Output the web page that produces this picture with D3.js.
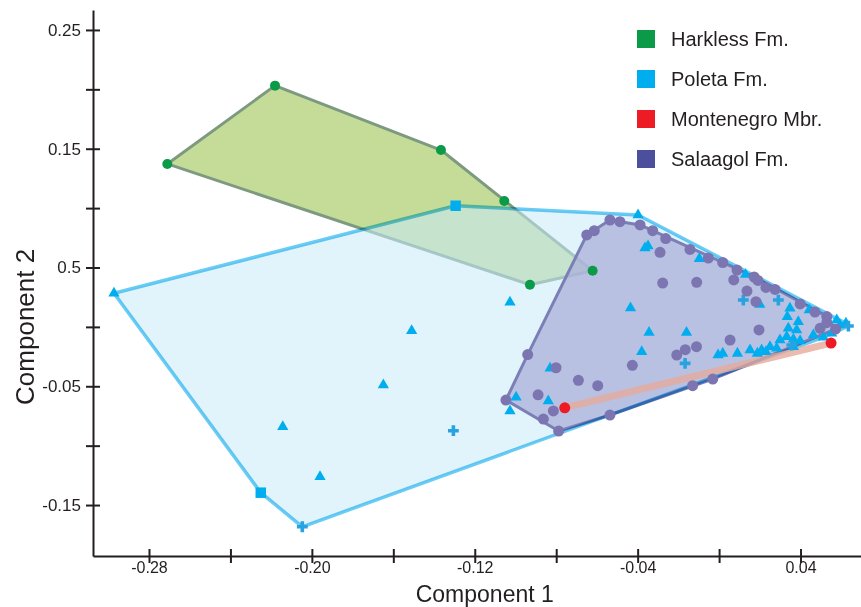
<!DOCTYPE html>
<html>
<head>
<meta charset="utf-8">
<script src="https://cdnjs.cloudflare.com/ajax/libs/d3/7.8.5/d3.min.js"></script>
<style>
  body { margin: 0; background: #fff; }
  svg { display: block; font-family: "Liberation Sans", Arial, sans-serif; }
</style>
</head>
<body>
<svg width="861" height="607"></svg>
<script>
// PCA scores, [component 1, component 2]
var harkless = [[-0.2710, 0.1372], [-0.2181, 0.2031], [-0.1366, 0.1489], [-0.1055, 0.1060],
  [-0.0621, 0.0473], [-0.0929, 0.0355]];

var montenegro = [[-0.0758, -0.0681], [0.0550, -0.0136]];

var poletaSquares = [[-0.1294, 0.1020], [-0.2251, -0.1396]];
var poletaCrosses = [[-0.2047, -0.1683], [-0.1305, -0.0874], [-0.0167, -0.0307], [0.0119, 0.0226],
  [0.0291, 0.0226], [0.0635, 0.0007], [0.0357, -0.0153]];
var poletaTriangles = [[-0.2972, 0.0283], [-0.0398, 0.0942], [-0.0364, 0.0664], [-0.0349, 0.0681],
  [-0.1027, 0.0207], [-0.0435, 0.0159], [-0.0344, -0.0047], [-0.0160, -0.0047], [-0.0380, -0.0209],
  [-0.0830, -0.0349], [-0.0997, -0.0593], [-0.0839, -0.0624], [-0.1027, -0.0708], [-0.1510, -0.0032],
  [-0.1649, -0.0489], [-0.2143, -0.0841], [-0.1960, -0.1262], [-0.0005, -0.0237],
  [-0.0097, 0.0574], [0.0130, 0.0441], [0.0200, 0.0188], [0.0348, 0.0156], [0.0443, 0.0142],
  [0.0389, 0.0044], [0.0335, 0.0086], [0.0578, 0.0058], [0.0594, 0.0016], [0.0623, 0.0030],
  [0.0340, -0.0012], [0.0381, -0.0026], [0.0299, -0.0111], [0.0332, -0.0083], [0.0365, -0.0105],
  [0.0398, -0.0116], [0.0250, -0.0167], [0.0209, -0.0195], [0.0152, -0.0195], [0.0090, -0.0223],
  [0.0018, -0.0223], [0.0230, -0.0209], [0.0188, -0.0223], [0.0283, -0.0180], [0.0463, -0.0068],
  [0.0512, -0.0088], [0.0553, -0.0054], [0.0365, -0.0167]];

var salaagol = [[-0.0650, 0.0774], [-0.0613, 0.0810], [-0.0536, 0.0900], [-0.0487, 0.0886],
  [-0.0388, 0.0858], [-0.0326, 0.0810], [-0.0262, 0.0744], [-0.0290, 0.0628], [-0.0277, 0.0369],
  [-0.0143, 0.0652], [-0.0940, -0.0233], [-0.0801, -0.0344], [-0.0691, -0.0450], [-0.0596, -0.0495],
  [-0.0426, -0.0324], [-0.0208, -0.0237], [-0.0166, -0.0192], [-0.0111, -0.0167], [-0.1047, -0.0616],
  [-0.0889, -0.0572], [-0.0814, -0.0708], [-0.0863, -0.0776], [-0.0788, -0.0877], [-0.0536, -0.0742],
  [-0.0130, -0.0495], [-0.0031, -0.0439], [-0.0053, 0.0580], [0.0018, 0.0542], [0.0088, 0.0479],
  [0.0172, 0.0420], [0.0191, 0.0391], [0.0072, 0.0395], [-0.0110, 0.0375], [0.0230, 0.0332],
  [0.0275, 0.0315], [0.0137, 0.0302], [0.0181, 0.0212], [0.0398, 0.0193], [0.0471, 0.0125],
  [0.0529, 0.0087], [0.0496, -0.0012], [0.0529, 0.0035], [0.0572, -0.0018], [0.0196, -0.0026],
  [0.0054, -0.0111]];

var xTicks = [-0.28, -0.24, -0.20, -0.16, -0.12, -0.08, -0.04, 0.00, 0.04];
var xTickLabels = ["-0.28", "", "-0.20", "", "-0.12", "", "-0.04", "", "0.04"];
var yTicks = [0.25, 0.20, 0.15, 0.10, 0.05, 0.00, -0.05, -0.10, -0.15];
var yTickLabels = ["0.25", "", "0.15", "", "0.5", "", "-0.05", "", "-0.15"];

var legendNames = ["Harkless Fm.", "Poleta Fm.", "Montenegro Mbr.", "Salaagol Fm."];
var legendColors = ["#0a9a48", "#00aeef", "#ed1c24", "#4b4f9c"];

var svg = d3.select("svg"),
    margin = {top: 10, right: 0, bottom: 51, left: 93},
    width = +svg.attr("width") - margin.left - margin.right,
    height = +svg.attr("height") - margin.top - margin.bottom;

var g = svg.append("g").attr("transform", "translate(" + margin.left + "," + margin.top + ")");

var x = d3.scaleLinear().domain([-0.3075, 0.0697]).range([0, width]);
var y = d3.scaleLinear().domain([-0.1929, 0.2668]).range([height, 0]);

function pt(d) { return [x(d[0]), y(d[1])]; }
var poletaAll = poletaTriangles.concat(poletaSquares, poletaCrosses);

// hulls
g.append("path")
  .attr("d", "M" + d3.polygonHull(harkless.map(pt)).join("L") + "Z")
  .attr("fill", "#c4dc98")
  .attr("stroke", "#7d9a80")
  .attr("stroke-width", 3)
  .attr("stroke-linejoin", "round");

var poletaHull = "M" + d3.polygonHull(poletaAll.map(pt)).join("L") + "Z";
g.append("path")
  .attr("d", poletaHull)
  .attr("fill", "#c8ebfa")
  .attr("fill-opacity", 0.55);

g.append("path")
  .attr("d", "M" + d3.polygonHull(salaagol.map(pt)).join("L") + "Z")
  .attr("fill", "#abb0d9")
  .attr("fill-opacity", 0.75)
  .attr("stroke", "#7c7fb6")
  .attr("stroke-width", 3)
  .attr("stroke-linejoin", "round");

g.append("path")
  .attr("d", poletaHull)
  .attr("fill", "none")
  .attr("stroke", "#6acdf4")
  .attr("stroke-width", 3.5)
  .attr("stroke-linejoin", "round")
  .style("mix-blend-mode", "multiply");

g.append("line")
  .attr("x1", x(montenegro[0][0])).attr("y1", y(montenegro[0][1]))
  .attr("x2", x(montenegro[1][0])).attr("y2", y(montenegro[1][1]))
  .attr("stroke", "#e6aa9c")
  .attr("stroke-width", 7)
  .attr("stroke-opacity", 0.8);

// points
function symbols(data, type, size, color) {
  g.append("g").selectAll("path")
    .data(data)
    .enter().append("path")
      .attr("transform", function(d) { return "translate(" + x(d[0]) + "," + y(d[1]) + ")"; })
      .attr("d", d3.symbol().type(type).size(size))
      .attr("fill", color);
}
symbols(poletaTriangles, d3.symbolTriangle, 55, "#00aeef");
symbols(poletaSquares, d3.symbolSquare, 110, "#00aeef");
symbols(poletaCrosses, d3.symbolCross, 65, "#29a3e0");

function dots(data, r, color) {
  g.append("g").selectAll("circle")
    .data(data)
    .enter().append("circle")
      .attr("cx", function(d) { return x(d[0]); })
      .attr("cy", function(d) { return y(d[1]); })
      .attr("r", r)
      .attr("fill", color);
}
dots(salaagol, 5.5, "#7b75b2");
dots(montenegro, 5.5, "#ed1c24");
dots(harkless, 5, "#0a9a48");

// axes
var xAxis = g.append("g")
  .attr("transform", "translate(0," + height + ")")
  .call(d3.axisBottom(x).tickValues(xTicks).tickSize(7).tickSizeOuter(0)
    .tickFormat(function(d, i) { return xTickLabels[i]; }));
xAxis.selectAll("line").attr("y1", -7);
xAxis.selectAll("text").attr("y", 6).style("font-size", "16px").attr("fill", "#231f20");

var yAxis = g.append("g")
  .call(d3.axisLeft(y).tickValues(yTicks).tickSize(7).tickSizeOuter(0)
    .tickFormat(function(d, i) { return yTickLabels[i]; }));
yAxis.selectAll("line").attr("x1", 7);
yAxis.selectAll("text").attr("x", -12).style("font-size", "17px").attr("fill", "#231f20");

svg.selectAll(".domain, .tick line").attr("stroke", "#231f20").attr("stroke-width", 2);

svg.append("text")
  .attr("x", margin.left + x(-0.12) + 10)
  .attr("y", 602)
  .attr("text-anchor", "middle")
  .style("font-size", "23px")
  .attr("fill", "#231f20")
  .text("Component 1");

svg.append("text")
  .attr("transform", "translate(34," + (margin.top + y(0.0)) + ") rotate(-90)")
  .attr("text-anchor", "middle")
  .style("font-size", "26px")
  .attr("fill", "#231f20")
  .text("Component 2");

// legend
var legend = svg.append("g").attr("transform", "translate(637,30)");
var item = legend.selectAll("g")
  .data(legendNames)
  .enter().append("g")
    .attr("transform", function(d, i) { return "translate(0," + i * 40 + ")"; });
item.append("rect")
  .attr("width", 18).attr("height", 18)
  .attr("fill", function(d, i) { return legendColors[i]; });
item.append("text")
  .attr("x", 34).attr("y", 9).attr("dy", "0.35em")
  .style("font-size", "20px")
  .attr("fill", "#231f20")
  .text(function(d) { return d; });
</script>
</body>
</html>
